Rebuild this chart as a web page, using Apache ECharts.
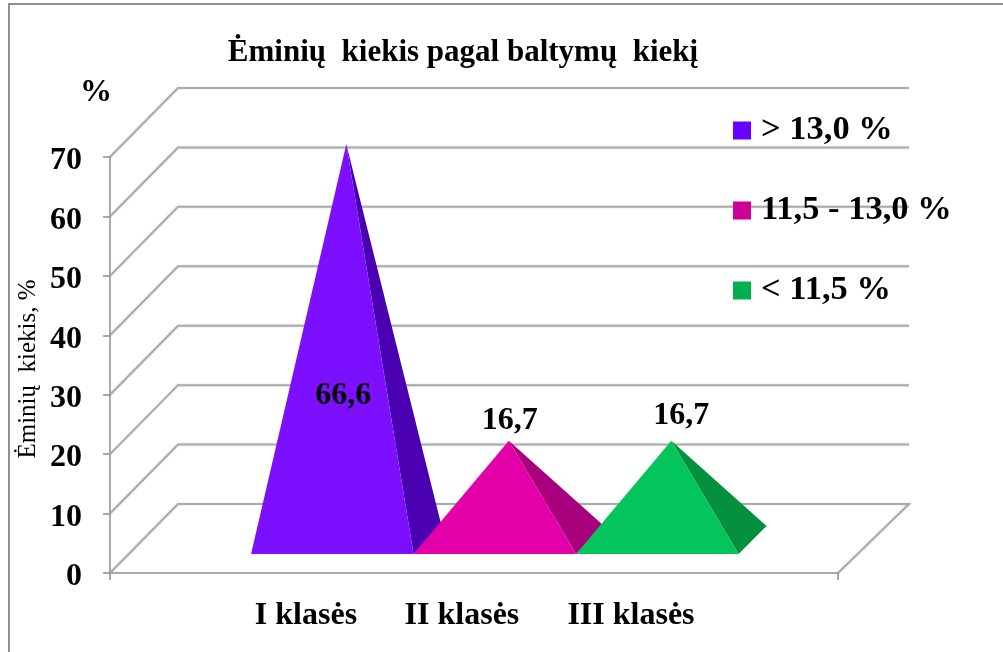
<!DOCTYPE html>
<html>
<head>
<meta charset="utf-8">
<style>html,body{margin:0;padding:0;background:#fff}#c{width:1003px;height:652px}</style>
<script src="https://cdn.jsdelivr.net/npm/echarts@6/dist/echarts.min.js"></script>
</head>
<body>
<div id="c"></div>
<script>
// ---- data ----
const categories = ['I klasės', 'II klasės', 'III klasės'];
const legendNames = ['> 13,0 %', '11,5 - 13,0 %', '< 11,5 %'];
const values = [66.6, 16.7, 16.7];
const yTicks = [0, 10, 20, 30, 40, 50, 60, 70];
const titleText = 'Ėminių  kiekis pagal baltymų  kiekį';
const yName = 'Ėminių  kiekis, %';

// ---- styling / layout ----
const FONT = '"Liberation Serif","Times New Roman",serif';
const legendColors = ['#6600FF', '#CC0099', '#00B050'];
const frontColors = ['#7D0FFF', '#E400A8', '#04C45C'];
const sideColors = ['#4A00B0', '#A8007C', '#04903F'];
const GRID_COLOR = '#ABABAB';
const X_MAX = 4.48;           // floor width in pyramid-slot units
const SLOT_START = 0.868;     // where the first pyramid starts along the floor
const CAT_POS = [1.206, 2.166, 3.206]; // axis label centres in slot units
const WALL = [68, -69];       // depth of the 3D box in pixels
const WALL_EXTRA = 3;         // back wall runs a little past the front edge
const BASE_DEPTH = [28, -28]; // depth of a pyramid base
const BASE_LIFT = 19;         // front base edge above front floor edge
const LABEL_OFFSET = [[-3, 252], [1, -20], [10, -25]]; // value label relative to apex

const chart = echarts.init(document.getElementById('c'), null, {renderer: 'canvas'});

function gridItem(params, api) {
  const v = api.value(1);
  const p = api.coord([0, v]);
  const q = api.coord([X_MAX, v]);
  const a = [p[0] + WALL[0], p[1] + WALL[1]];
  const b = [q[0] + WALL[0] + WALL_EXTRA, q[1] + WALL[1]];
  const points = v === 0 ? [p, a, b, q] : [p, a, b];
  return {
    type: 'polyline',
    shape: {points},
    style: {fill: null, stroke: GRID_COLOR, lineWidth: 2, shadowBlur: 2, shadowColor: 'rgba(0,0,0,0.18)'}
  };
}

function pyramidItem(i) {
  return function (params, api) {
    const slot = api.value(0) + SLOT_START;
    const v = api.value(1);
    const l = api.coord([slot, 0]);
    const r = api.coord([slot + 1, 0]);
    const fl = [l[0], l[1] - BASE_LIFT];
    const fr = [r[0], r[1] - BASE_LIFT];
    const br = [fr[0] + BASE_DEPTH[0], fr[1] + BASE_DEPTH[1]];
    const top = api.coord([slot + 0.5, v]);
    const apex = [top[0] + BASE_DEPTH[0] / 2, top[1] - BASE_LIFT + BASE_DEPTH[1] / 2];
    return {
      type: 'group',
      children: [
        {type: 'polygon', shape: {points: [apex, fr, br]}, style: {fill: sideColors[i]}},
        {type: 'polygon', shape: {points: [apex, fl, fr]}, style: {fill: frontColors[i]}},
        {type: 'text', z2: 10, style: {
          text: v.toFixed(1).replace('.', ','),
          x: apex[0] + LABEL_OFFSET[i][0], y: apex[1] + LABEL_OFFSET[i][1],
          textAlign: 'center', textVerticalAlign: 'middle',
          font: 'bold 32px ' + FONT, fill: '#000'
        }}
      ]
    };
  };
}

const option = {
  animation: false,
  backgroundColor: '#fff',
  textStyle: {fontFamily: FONT},
  title: {
    text: titleText, left: 458, top: 32, textAlign: 'center',
    textStyle: {fontFamily: FONT, fontWeight: 'bold', fontSize: 31, color: '#000'}
  },
  legend: {
    orient: 'vertical', left: 728, top: 108, itemWidth: 18, itemHeight: 18, itemGap: 45,
    icon: 'rect', selectedMode: false,
    textStyle: {fontFamily: FONT, fontWeight: 'bold', fontSize: 34.5, color: '#000', lineHeight: 34, padding: [0, 0, 0, 5]},
    data: legendNames
  },
  grid: {left: 110, top: 157, width: 728, height: 416},
  xAxis: {
    type: 'value', min: 0, max: X_MAX, splitLine: {show: false},
    axisLine: {onZero: false, lineStyle: {color: GRID_COLOR, width: 2}},
    axisTick: {length: 7, lineStyle: {color: '#8C8C8C', width: 1.5}, customValues: [0, X_MAX]},
    axisLabel: {
      customValues: CAT_POS, margin: 27,
      fontFamily: FONT, fontWeight: 'bold', fontSize: 32, color: '#000',
      formatter: v => categories[CAT_POS.indexOf(v)]
    }
  },
  yAxis: {
    type: 'value', min: 0, max: 70, interval: 10, splitLine: {show: false},
    name: yName, nameLocation: 'middle', nameRotate: 90, nameGap: 69, nameMoveOverlap: false,
    nameTextStyle: {fontFamily: FONT, fontSize: 25, color: '#000', padding: [0, 8, 0, 0]},
    axisLine: {show: true, lineStyle: {color: GRID_COLOR, width: 2}},
    axisTick: {show: true, length: 7, lineStyle: {color: '#8C8C8C', width: 1.5}},
    axisLabel: {margin: 28, fontFamily: FONT, fontWeight: 'bold', fontSize: 32, color: '#000', verticalAlign: 'top', lineHeight: 8}
  },
  graphic: [
    {type: 'polyline', silent: true, shape: {points: [[9, 660], [9, 4], [1010, 4]]},
      style: {fill: null, stroke: '#919191', lineWidth: 2}},
    {type: 'text', silent: true, style: {text: '%', x: 96, y: 93, textAlign: 'center', textVerticalAlign: 'middle',
      font: 'bold 32px ' + FONT, fill: '#000'}}
  ],
  series: [
    {type: 'custom', name: 'grid', silent: true, clip: false, z: 1, renderItem: gridItem,
      data: yTicks.map(v => [0, v])}
  ].concat(values.map((v, i) => ({
    type: 'custom', name: legendNames[i], silent: true, clip: false, z: 2 + i,
    itemStyle: {color: legendColors[i]},
    renderItem: pyramidItem(i),
    data: [[i, v]]
  })))
};
chart.setOption(option);
</script>
</body>
</html>
